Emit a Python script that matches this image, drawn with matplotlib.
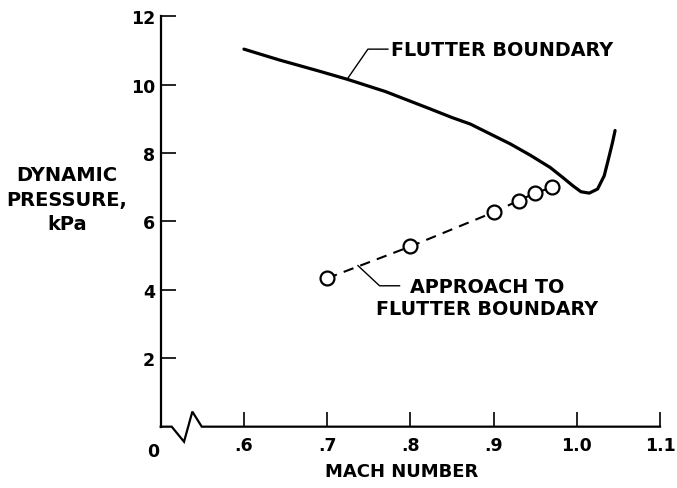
import matplotlib
matplotlib.use('Agg')
import matplotlib.pyplot as plt

# Flutter boundary (solid curve)
flutter_mach = [0.600, 0.643, 0.690, 0.724, 0.770, 0.823, 0.850, 0.872, 0.896,
                0.920, 0.944, 0.968, 0.983, 0.995, 1.005, 1.015, 1.025, 1.033,
                1.039, 1.043, 1.046]
flutter_q = [11.04, 10.72, 10.40, 10.16, 9.80, 9.30, 9.04, 8.85, 8.56,
             8.27, 7.94, 7.58, 7.29, 7.05, 6.87, 6.83, 6.95, 7.34,
             7.92, 8.32, 8.66]

# Approach to flutter boundary (circles, dashed)
approach_mach = [0.70, 0.80, 0.90, 0.93, 0.95, 0.97]
approach_q = [4.34, 5.27, 6.27, 6.61, 6.83, 7.00]

x_ticks = [0.6, 0.7, 0.8, 0.9, 1.0, 1.1]
x_tick_labels = ['.6', '.7', '.8', '.9', '1.0', '1.1']
y_ticks = [2, 4, 6, 8, 10, 12]

plt.rcParams['font.family'] = 'DejaVu Sans'
plt.rcParams['font.weight'] = 'bold'
plt.rcParams['font.size'] = 12

fig = plt.figure(figsize=(6.77, 4.89), dpi=100)
ax = fig.add_axes([0.2374, 0.1254, 0.7375, 0.8392])

ax.set_xlim(0.5, 1.1)
ax.set_ylim(0, 12)

# curves
ax.plot(flutter_mach, flutter_q, color='black', lw=2.3,
        solid_capstyle='round', solid_joinstyle='round')
ax.plot(approach_mach, approach_q, color='black', lw=1.5, ls=(0, (5, 3.5)),
        marker='o', ms=10, mfc='white', mec='black', mew=1.6)

# axes: left spine only, bottom drawn by hand with break
for s in ['top', 'right', 'bottom']:
    ax.spines[s].set_visible(False)
ax.spines['left'].set_linewidth(1.6)

brk_x = [0.5, 0.5132, 0.5280, 0.5380, 0.5493, 1.1]
brk_y = [0, 0, -0.44, 0.44, 0, 0]
ax.plot(brk_x, brk_y, color='black', lw=1.6, clip_on=False, solid_joinstyle='miter')

ax.set_xticks(x_ticks)
ax.set_xticklabels(x_tick_labels)
ax.set_yticks(y_ticks)
ax.tick_params(axis='both', direction='in', length=11, width=1.2, labelsize=12.5)
ax.tick_params(axis='x', pad=7)
ax.tick_params(axis='y', pad=4)

ax.text(0.491, -0.45, '0', ha='center', va='top', fontsize=12.5, fontweight='bold')

ax.set_xlabel('MACH NUMBER', fontsize=13, fontweight='bold')
ax.xaxis.set_label_coords(0.483, -0.085)
fig.text(0.099, 0.591, 'DYNAMIC\nPRESSURE,\nkPa', ha='center', va='center',
         fontsize=14, fontweight='bold', linespacing=1.35)

# annotations
ax.plot([0.724, 0.749, 0.773], [10.16, 11.04, 11.04], color='black', lw=1.0)
ax.text(0.777, 11.04, 'FLUTTER BOUNDARY', ha='left', va='center',
        fontsize=13.8, fontweight='bold')

ax.plot([0.737, 0.763, 0.787], [4.71, 4.12, 4.12], color='black', lw=1.0)
ax.text(0.892, 3.78, 'APPROACH TO\nFLUTTER BOUNDARY', ha='center', va='center',
        fontsize=13.8, fontweight='bold', linespacing=1.25)

fig.savefig('out.png', dpi=100)
